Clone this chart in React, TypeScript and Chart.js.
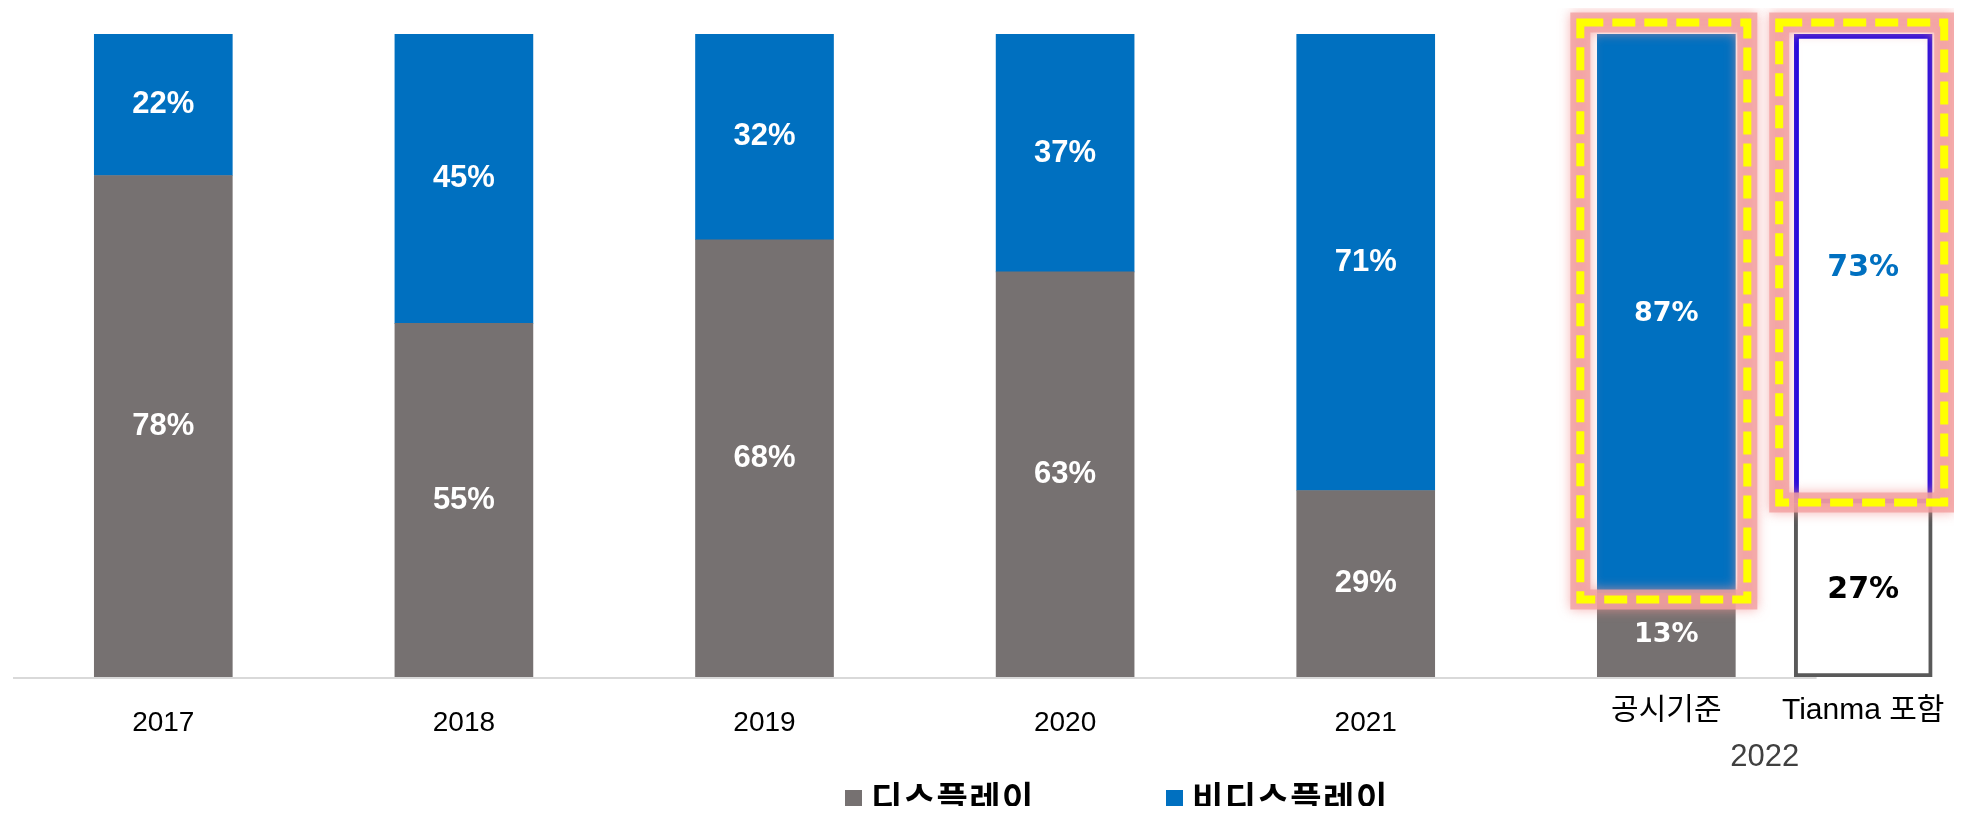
import React, { useEffect, useRef } from 'react';
import { Chart, registerables } from 'chart.js';

Chart.register(...registerables);

// ---------- data ----------
const categories = ['2017', '2018', '2019', '2020', '2021', '공시기준'];
const extraCategory = 'Tianma 포함';
const groupLabel = '2022';
const seriesNames = ['디스플레이', '비디스플레이'];
const displayShare = [78, 55, 68, 63, 29, 13];
const nonDisplayShare = [22, 45, 32, 37, 71, 87];
const tianmaDisplayShare = [27];
const tianmaNonDisplayShare = [73];

// ---------- styles / layout ----------
const GREY = '#767171';
const BLUE = '#0070C0';
const TIANMA_OFFSET = 0.655;
const BAR = 138;
const LATIN = '"Liberation Sans", "Noto Sans CJK KR", sans-serif';
const KR = '"Noto Sans CJK KR", "Liberation Sans", sans-serif';

const tickValues = [...categories.map((_, i) => i), categories.length - 1 + TIANMA_OFFSET];
const tickLabels = [...categories, extraCategory];

function rectPath(ctx: CanvasRenderingContext2D, l: number, t: number, r: number, b: number) {
  ctx.beginPath();
  ctx.moveTo(l, t);
  ctx.lineTo(r, t);
  ctx.lineTo(r, b);
  ctx.lineTo(l, b);
  ctx.closePath();
}

function highlight(ctx: CanvasRenderingContext2D, l: number, t: number, r: number, b: number) {
  ctx.save();
  rectPath(ctx, l, t, r, b);
  ctx.strokeStyle = 'rgba(243,160,160,0.8)';
  ctx.lineWidth = 20;
  ctx.shadowColor = 'rgba(243,150,150,0.9)';
  ctx.shadowBlur = 12;
  ctx.stroke();
  ctx.restore();
  ctx.save();
  rectPath(ctx, l, t, r, b);
  ctx.strokeStyle = '#FFFF00';
  ctx.lineWidth = 8;
  ctx.lineJoin = 'miter';
  ctx.setLineDash([23, 9]);
  ctx.stroke();
  ctx.restore();
}

const overlayPlugin = {
  id: 'overlay',
  beforeDatasetsDraw(chart: any) {
    const { ctx, chartArea, scales } = chart;
    const x = scales.x;
    ctx.save();
    ctx.strokeStyle = '#D9D9D9';
    ctx.lineWidth = 2;
    ctx.beginPath();
    ctx.moveTo(x.getPixelForValue(-0.5), chartArea.bottom + 1);
    ctx.lineTo(x.getPixelForValue(categories.length - 0.5), chartArea.bottom + 1);
    ctx.stroke();
    ctx.restore();
  },
  afterDatasetsDraw(chart: any) {
    const { ctx } = chart;
    // highlight boxes
    const main = chart.getDatasetMeta(1).data[categories.length - 1];
    if (main) {
      const p = main.getProps(['x', 'y', 'base', 'width'], true);
      highlight(ctx, p.x - p.width / 2 - 17, p.y - 11.5, p.x + p.width / 2 + 12, p.base + 6);
    }
    const tm = chart.getDatasetMeta(3).data[0];
    if (tm) {
      const p = tm.getProps(['x', 'y', 'base', 'width'], true);
      highlight(ctx, p.x - p.width / 2 - 15, p.y - 11.5, p.x + p.width / 2 + 12, p.base - 1);
    }
    // value labels
    chart.data.datasets.forEach((ds: any, di: number) => {
      const meta = chart.getDatasetMeta(di);
      meta.data.forEach((el: any, i: number) => {
        const p = el.getProps(['x', 'y', 'base'], true);
        const v = ds.data[i].y;
        ctx.save();
        ctx.textAlign = 'center';
        ctx.textBaseline = 'middle';
        if (di < 2) {
          ctx.fillStyle = '#FFFFFF';
          ctx.font = i === categories.length - 1 ? 'bold 27px "DejaVu Sans"' : `bold 31px ${LATIN}`;
        } else {
          ctx.fillStyle = di === 3 ? BLUE : '#000000';
          ctx.font = 'bold 30px "DejaVu Sans"';
        }
        ctx.fillText(`${v}%`, p.x, (p.y + p.base) / 2);
        ctx.restore();
      });
    });
  },
  afterDraw(chart: any) {
    const { ctx, scales } = chart;
    const x = scales.x;
    // group label under the two 2022 bars
    const gx = (x.getPixelForValue(categories.length - 1) + x.getPixelForValue(categories.length - 1 + TIANMA_OFFSET)) / 2;
    ctx.save();
    ctx.fillStyle = '#404040';
    ctx.font = `31px ${LATIN}`;
    ctx.textAlign = 'center';
    ctx.textBaseline = 'middle';
    ctx.fillText(groupLabel, gx, 749);
    ctx.restore();
    // legend
    const colors = [GREY, BLUE];
    const starts = [837, 1158];
    ctx.save();
    ctx.font = `bold 34px ${KR}`;
    (ctx as any).letterSpacing = '1.5px';
    ctx.textBaseline = 'middle';
    ctx.textAlign = 'left';
    seriesNames.forEach((name, i) => {
      ctx.fillStyle = colors[i];
      ctx.fillRect(starts[i], 782, 17, 17);
      ctx.fillStyle = '#000000';
      ctx.fillText(name, starts[i] + 26, 790);
    });
    ctx.restore();
  },
};

export default function App() {
  const ref = useRef<HTMLCanvasElement>(null);
  useEffect(() => {
    const tianmaX = categories.length - 1 + TIANMA_OFFSET;
    const chart = new Chart(ref.current as HTMLCanvasElement, {
      type: 'bar',
      data: {
        datasets: [
          {
            label: seriesNames[0],
            data: displayShare.map((v, i) => ({ x: i, y: v })),
            backgroundColor: GREY,
            borderWidth: 0,
            barThickness: BAR,
          },
          {
            label: seriesNames[1],
            data: nonDisplayShare.map((v, i) => ({ x: i, y: v })),
            backgroundColor: BLUE,
            borderWidth: 0,
            barThickness: BAR,
          },
          {
            label: seriesNames[0] + ' (' + extraCategory + ')',
            data: tianmaDisplayShare.map((v) => ({ x: tianmaX, y: v })),
            backgroundColor: '#FFFFFF',
            borderColor: '#595959',
            borderWidth: 4,
            borderSkipped: 'top',
            barThickness: BAR,
          },
          {
            label: seriesNames[1] + ' (' + extraCategory + ')',
            data: tianmaNonDisplayShare.map((v) => ({ x: tianmaX, y: v })),
            backgroundColor: '#FFFFFF',
            borderColor: '#1B00E0',
            borderWidth: 5,
            borderSkipped: false,
            barThickness: BAR,
          },
        ],
      } as any,
      options: {
        responsive: false,
        animation: false,
        layout: { padding: { left: 5, right: 0, top: 26, bottom: 0 } },
        plugins: { legend: { display: false }, tooltip: { enabled: false } },
        scales: {
          x: {
            type: 'linear',
            min: -0.5,
            max: 5.957,
            bounds: 'data',
            offset: false,
            stacked: true,
            grid: { display: false, drawTicks: false },
            border: { display: false },
            afterBuildTicks: (scale: any) => {
              scale.ticks = tickValues.map((v) => ({ value: v }));
            },
            afterFit: (scale: any) => {
              scale.height = 129;
              scale.paddingLeft = 0;
              scale.paddingRight = 0;
            },
            ticks: {
              autoSkip: false,
              maxRotation: 0,
              minRotation: 0,
              padding: 29,
              color: '#000000',
              font: (ctx: any) =>
                ctx.index >= categories.length - 1
                  ? { family: LATIN, size: 30, lineHeight: 0.33 }
                  : { family: LATIN, size: 28, lineHeight: 1.2 },
              callback: (_v: any, i: number) => tickLabels[i],
            },
          },
          y: { display: false, stacked: true, min: 0, max: 100 },
        },
      } as any,
      plugins: [overlayPlugin],
    });
    return () => chart.destroy();
  }, []);
  return <canvas ref={ref} width={1946} height={798} style={{ display: 'block' }} />;
}
